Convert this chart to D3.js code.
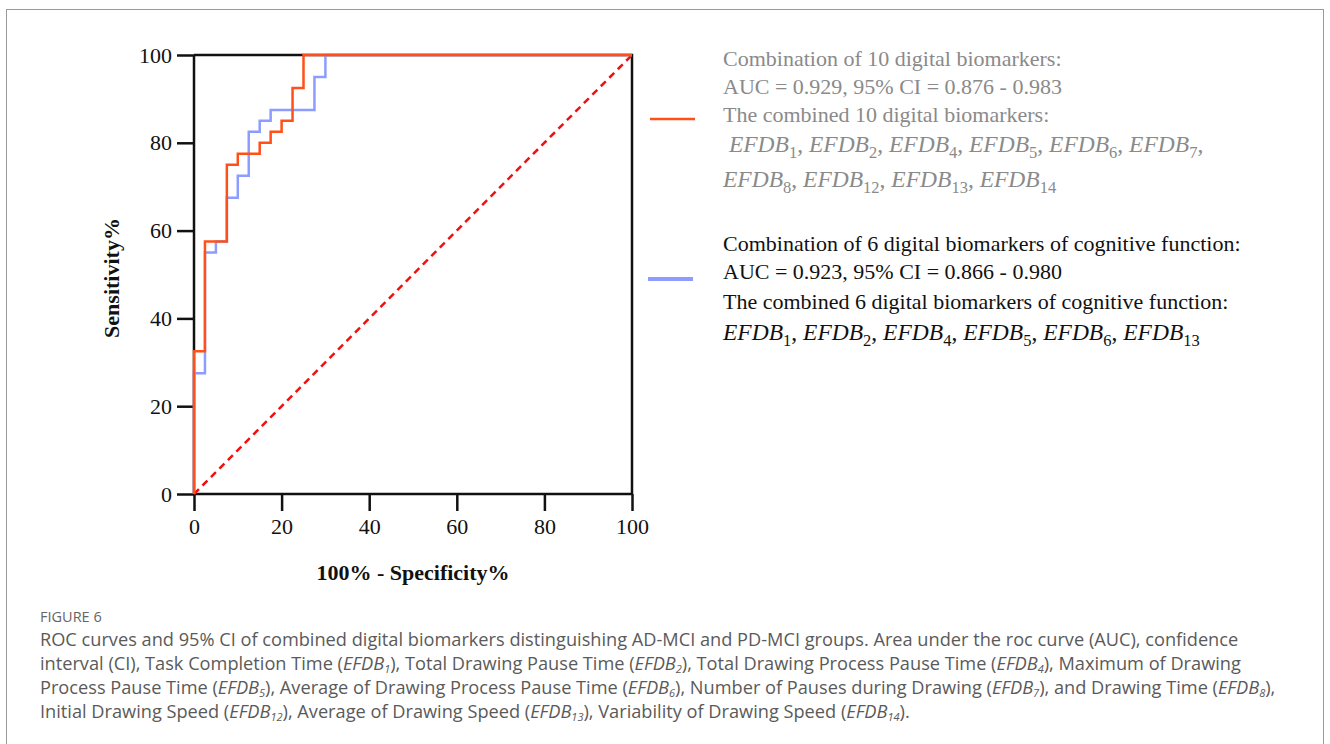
<!DOCTYPE html>
<html>
<head>
<meta charset="utf-8">
<script src="https://d3js.org/d3.v7.min.js"></script>
<style>
  body { margin: 0; background: #fff; }
  svg { display: block; }
</style>
</head>
<body>
<div id="chart"></div>
<script>
// ROC points (100% - specificity, sensitivity)
var fpr10  = [0, 0, 2.5, 7.5, 10, 15, 17.5, 20, 22.5, 25, 100];
var sens10 = [0, 32.5, 57.5, 75, 77.5, 80, 82.5, 85, 92.5, 100, 100];
var fpr6   = [0, 0, 2.5, 5, 7.5, 10, 12.5, 15, 17.5, 27.5, 30, 100];
var sens6  = [0, 27.5, 55, 57.5, 67.5, 72.5, 82.5, 85, 87.5, 95, 100, 100];
var ticks  = [0, 20, 40, 60, 80, 100];

var legend10 = [
  "Combination of 10 digital biomarkers:",
  "AUC = 0.929, 95% CI = 0.876 - 0.983",
  "The combined 10 digital biomarkers:",
  " EFDB1, EFDB2, EFDB4, EFDB5, EFDB6, EFDB7,",
  "EFDB8, EFDB12, EFDB13, EFDB14"
];
var legend6 = [
  "Combination of 6 digital biomarkers of cognitive function:",
  "AUC = 0.923, 95% CI = 0.866 - 0.980",
  "The combined 6 digital biomarkers of cognitive function:",
  "EFDB1, EFDB2, EFDB4, EFDB5, EFDB6, EFDB13"
];
var captionTitle = "FIGURE 6";
var caption = [
  "ROC curves and 95% CI of combined digital biomarkers distinguishing AD-MCI and PD-MCI groups. Area under the roc curve (AUC), confidence",
  "interval (CI), Task Completion Time (EFDB1), Total Drawing Pause Time (EFDB2), Total Drawing Process Pause Time (EFDB4), Maximum of Drawing",
  "Process Pause Time (EFDB5), Average of Drawing Process Pause Time (EFDB6), Number of Pauses during Drawing (EFDB7), and Drawing Time (EFDB8),",
  "Initial Drawing Speed (EFDB12), Average of Drawing Speed (EFDB13), Variability of Drawing Speed (EFDB14)."
];

var orange = "#ff5019", blue = "#8c9cff";
var serif = "'Liberation Serif', 'Times New Roman', serif";

var svg = d3.select("#chart").append("svg")
    .attr("width", 1330).attr("height", 744);

// figure frame
svg.append("rect")
    .attr("x", 6.5).attr("y", 9.5).attr("width", 1317).attr("height", 760)
    .attr("fill", "none").attr("stroke", "#9a9a9a").attr("stroke-width", 1);

var x = d3.scaleLinear().domain([0, 100]).range([194, 632]);
var y = d3.scaleLinear().domain([0, 100]).range([494, 55]);

// axes
var gy = svg.append("g").attr("transform", "translate(194,0)")
    .call(d3.axisLeft(y).tickValues(ticks).tickSize(17).tickPadding(5));
var gx = svg.append("g").attr("transform", "translate(0,494)")
    .call(d3.axisBottom(x).tickValues(ticks).tickSize(17).tickPadding(7));
[gx, gy].forEach(function (g) {
  g.selectAll("path.domain").attr("stroke", "#111").attr("stroke-width", 2.5);
  g.selectAll(".tick line").attr("stroke", "#111").attr("stroke-width", 2.5);
  g.selectAll(".tick text").attr("fill", "#111")
      .style("font-family", serif).style("font-size", "22px");
});
gx.select("path.domain").attr("d", "M" + x(0) + ",0H" + x(100));
gy.select("path.domain").attr("d", "M0," + y(0) + "V" + y(100));

// top & right frame lines
svg.append("path")
    .attr("d", "M" + x(0) + "," + y(100) + "H" + x(100) + "V" + y(0))
    .attr("fill", "none").attr("stroke", "#111").attr("stroke-width", 2.5);

// reference diagonal
svg.append("line")
    .attr("x1", x(0)).attr("y1", y(0)).attr("x2", x(100)).attr("y2", y(100))
    .attr("stroke", "#f01010").attr("stroke-width", 2.5).attr("stroke-dasharray", "7,5");

var line = d3.line().curve(d3.curveStepAfter)
    .x(function (d) { return x(d[0]); })
    .y(function (d) { return y(d[1]); });

svg.append("path").datum(d3.zip(fpr6, sens6))
    .attr("d", line).attr("fill", "none").attr("stroke", blue).attr("stroke-width", 2.5);
svg.append("path").datum(d3.zip(fpr10, sens10))
    .attr("d", line).attr("fill", "none").attr("stroke", orange).attr("stroke-width", 2.5);

// axis titles
svg.append("text").attr("x", 413).attr("y", 580)
    .attr("text-anchor", "middle").attr("font-weight", "bold")
    .style("font-family", serif).style("font-size", "22px").attr("fill", "#111")
    .text("100% - Specificity%");
svg.append("text").attr("transform", "translate(119,278) rotate(-90)")
    .attr("text-anchor", "middle").attr("font-weight", "bold")
    .style("font-family", serif).style("font-size", "22px").attr("fill", "#111")
    .text("Sensitivity%");

// text with italic EFDB and subscript digits
function rich(sel, str, mainSize, subSize, shift, subItalic) {
  var parts = str.split(/(EFDB\d+)/).filter(function (p) { return p; });
  var back = 0;
  parts.forEach(function (p) {
    var m = p.match(/^EFDB(\d+)$/);
    if (m) {
      sel.append("tspan").attr("font-style", "italic").attr("dy", -back)
          .style("font-size", mainSize).text("EFDB");
      sel.append("tspan").attr("dy", shift).style("font-size", subSize)
          .attr("font-style", subItalic ? "italic" : "normal").text(m[1]);
      back = shift;
    } else {
      sel.append("tspan").attr("dy", -back).style("font-size", mainSize).text(p);
      back = 0;
    }
  });
}

// legend
svg.append("line").attr("x1", 650).attr("x2", 695).attr("y1", 119).attr("y2", 119)
    .attr("stroke", orange).attr("stroke-width", 2.5);
svg.append("line").attr("x1", 648).attr("x2", 693).attr("y1", 279).attr("y2", 279)
    .attr("stroke", blue).attr("stroke-width", 4);

var base10 = [66, 94, 122, 152, 187];
legend10.forEach(function (s, i) {
  var t = svg.append("text").attr("x", 723).attr("y", base10[i])
      .attr("xml:space", "preserve")
      .style("font-family", serif).style("font-size", "22px").attr("fill", "#8a8a8a");
  var efdb = s.indexOf("EFDB") >= 0;
  rich(t, s, efdb ? "23.5px" : "22px", "16.5px", 6, false);
});
var base6 = [251, 279, 309, 340];
legend6.forEach(function (s, i) {
  var t = svg.append("text").attr("x", 723).attr("y", base6[i])
      .style("font-family", serif).style("font-size", "22px").attr("fill", "#111");
  var efdb = s.indexOf("EFDB") >= 0;
  rich(t, s, efdb ? "23.5px" : "22px", "16.5px", 6, false);
});

// caption
svg.append("text").attr("x", 40).attr("y", 622)
    .style("font-family", "'Open Sans', sans-serif").style("font-size", "14.5px")
    .attr("fill", "#666").text(captionTitle);
caption.forEach(function (s, i) {
  var t = svg.append("text").attr("x", 40).attr("y", 646 + i * 24)
      .style("font-family", "'Open Sans', sans-serif").style("font-size", "18.2px")
      .attr("fill", "#5a5a5a");
  rich(t, s, "18.2px", "11px", 3, true);
});
</script>
</body>
</html>
